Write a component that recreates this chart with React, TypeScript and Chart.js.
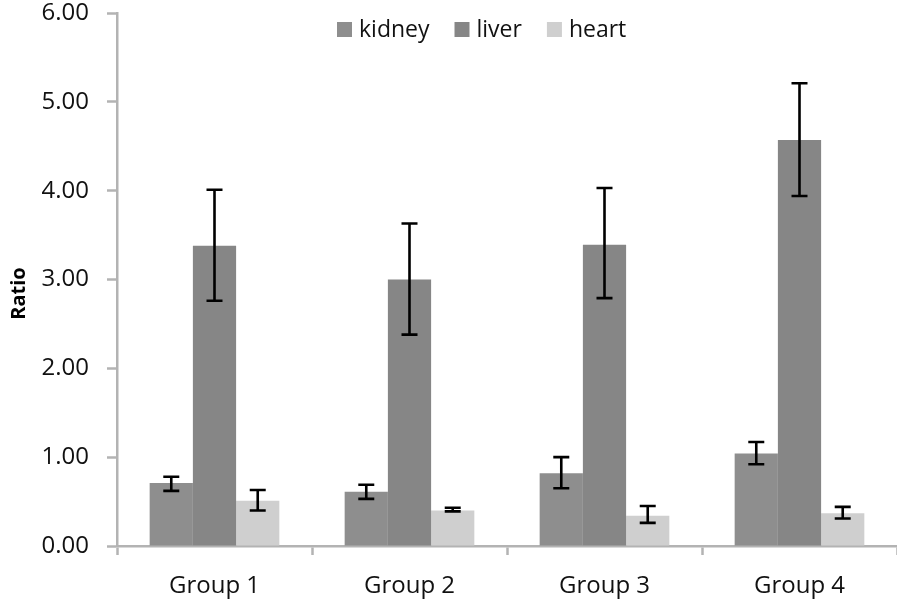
import React, { useEffect, useRef } from "react";
import { Chart, registerables } from "chart.js";

Chart.register(...registerables);

const categories = ["Group 1", "Group 2", "Group 3", "Group 4"];
const seriesNames = ["kidney", "liver", "heart"];
const kidney = [0.71, 0.61, 0.82, 1.04];
const liver = [3.38, 3.0, 3.39, 4.57];
const heart = [0.51, 0.4, 0.34, 0.37];
const kidneyLow = [0.62, 0.53, 0.65, 0.92];
const kidneyHigh = [0.78, 0.69, 1.0, 1.17];
const liverLow = [2.76, 2.38, 2.79, 3.94];
const liverHigh = [4.01, 3.63, 4.03, 5.21];
const heartLow = [0.4, 0.39, 0.26, 0.31];
const heartHigh = [0.63, 0.43, 0.45, 0.44];
const yTicks = [0, 1, 2, 3, 4, 5, 6];
const yTitle = "Ratio";

const colors = ["#8e8e8e", "#868686", "#cfcfcf"];
const FONT = "'Open Sans', sans-serif";

export default function App() {
  const ref = useRef<HTMLCanvasElement | null>(null);

  useEffect(() => {
    document.body.style.margin = "0";
    const canvas = ref.current;
    if (!canvas) return;

    const lows = [kidneyLow, liverLow, heartLow];
    const highs = [kidneyHigh, liverHigh, heartHigh];

    const errorBars = {
      id: "errorBars",
      afterDatasetsDraw(chart: any) {
        const ctx = chart.ctx;
        const y = chart.scales.y;
        ctx.save();
        ctx.strokeStyle = "#000";
        ctx.lineWidth = 2.6;
        chart.data.datasets.forEach((_: any, di: number) => {
          const meta = chart.getDatasetMeta(di);
          meta.data.forEach((bar: any, i: number) => {
            const x = bar.x;
            const yl = y.getPixelForValue(lows[di][i]);
            const yh = y.getPixelForValue(highs[di][i]);
            const cap = 8;
            ctx.beginPath();
            ctx.moveTo(x, yl);
            ctx.lineTo(x, yh);
            ctx.moveTo(x - cap, yl);
            ctx.lineTo(x + cap, yl);
            ctx.moveTo(x - cap, yh);
            ctx.lineTo(x + cap, yh);
            ctx.stroke();
          });
        });
        ctx.restore();
      },
    };

    const legendPlugin = {
      id: "customLegend",
      afterDraw(chart: any) {
        const ctx = chart.ctx;
        ctx.save();
        ctx.font = `23px ${FONT}`;
        ctx.textBaseline = "middle";
        let x = 337;
        const cy = 29;
        chart.data.datasets.forEach((ds: any) => {
          ctx.fillStyle = ds.backgroundColor;
          ctx.fillRect(x, cy - 7, 15, 15);
          x += 22;
          ctx.fillStyle = "#111";
          ctx.fillText(ds.label, x, cy + 1);
          x += ctx.measureText(ds.label).width + 25;
        });
        // y-axis title
        const area = chart.chartArea;
        ctx.translate(19, (area.top + area.bottom) / 2 + 14);
        ctx.rotate(-Math.PI / 2);
        ctx.font = `bold 20px ${FONT}`;
        ctx.fillStyle = "#000";
        ctx.textAlign = "center";
        ctx.fillText(yTitle, 0, 0);
        ctx.restore();
      },
    };

    const chart = new Chart(canvas, {
      type: "bar",
      data: {
        labels: categories,
        datasets: [
          { label: seriesNames[0], data: kidney, backgroundColor: colors[0] },
          { label: seriesNames[1], data: liver, backgroundColor: colors[1] },
          { label: seriesNames[2], data: heart, backgroundColor: colors[2] },
        ],
      },
      options: {
        responsive: false,
        animation: false,
        devicePixelRatio: 1,
        layout: { padding: { top: 13, right: 0, bottom: 0, left: 0 } },
        datasets: {
          bar: { barPercentage: 1, categoryPercentage: 0.665, borderWidth: 0 },
        },
        plugins: {
          legend: { display: false },
          tooltip: { enabled: false },
        },
        scales: {
          x: {
            grid: {
              offset: true,
              drawOnChartArea: false,
              drawTicks: true,
              tickLength: 9,
              tickColor: "#b3b3b3",
              tickWidth: 2.5,
            },
            border: { color: "#b3b3b3", width: 2.5 },
            ticks: {
              font: { family: FONT, size: 24 },
              color: "#111",
              padding: 17,
            },
            afterFit(scale: any) {
              scale.height = 59;
              scale.paddingLeft = 0;
              scale.paddingRight = 0;
            },
          },
          y: {
            min: 0,
            max: 6,
            afterBuildTicks(scale: any) {
              scale.ticks = yTicks.map((v) => ({ value: v }));
            },
            grid: {
              drawOnChartArea: false,
              drawTicks: true,
              tickLength: 10,
              tickColor: "#b3b3b3",
              tickWidth: 2.5,
            },
            border: { color: "#b3b3b3", width: 2.5 },
            ticks: {
              font: { family: FONT, size: 24 },
              color: "#111",
              padding: 18,
              callback: (v: any) => Number(v).toFixed(2),
            },
            title: { display: false },
            afterFit(scale: any) {
              scale.width = 117;
              scale.paddingTop = 0;
              scale.paddingBottom = 0;
            },
          },
        },
      },
      plugins: [errorBars, legendPlugin],
    });

    return () => chart.destroy();
  }, []);

  return (
    <div style={{ width: 897, height: 605 }}>
      <canvas ref={ref} width={897} height={605} />
    </div>
  );
}
